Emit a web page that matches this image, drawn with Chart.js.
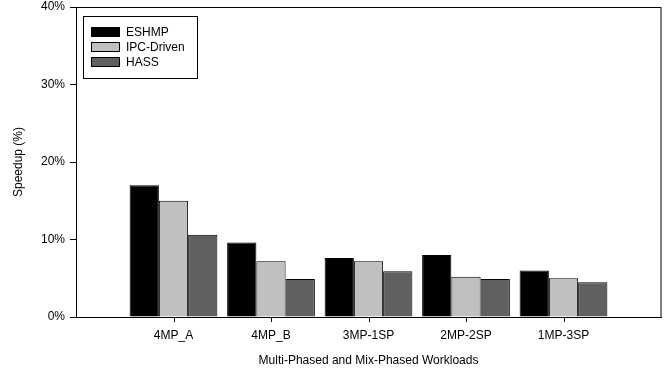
<!DOCTYPE html>
<html>
<head>
<meta charset="utf-8">
<script src="https://cdn.jsdelivr.net/npm/chart.js@4/dist/chart.umd.min.js"></script>
<style>
  html, body { margin: 0; padding: 0; background: #fff; }
  #wrap { width: 667px; height: 373px; }
</style>
</head>
<body>
<div id="wrap"><canvas id="c" width="667" height="373"></canvas></div>
<script>
// Workload categories and speedup (%) per scheduler
const categories = ['4MP_A', '4MP_B', '3MP-1SP', '2MP-2SP', '1MP-3SP'];
const eshmp     = [17.0, 9.6, 7.6, 8.0, 6.0];
const ipcDriven = [15.0, 7.2, 7.2, 5.2, 5.0];
const hass      = [10.6, 4.9, 5.9, 4.9, 4.5];
const yTicks    = [0, 10, 20, 30, 40];

const FONT = 'Liberation Sans, Arial, sans-serif';

// Empty slots on both ends leave the half-category gaps at the plot edges
const pad = arr => [null, ...arr, null];
const labels = ['', ...categories, ''];

// Frame box around the plot area, category tick marks and an in-plot legend
const framePlugin = {
  id: 'frameAndLegend',
  afterDraw(chart) {
    const { ctx, chartArea: a } = chart;
    const xs = chart.scales.x;
    ctx.save();
    ctx.strokeStyle = '#000';
    ctx.lineWidth = 1;
    ctx.strokeRect(Math.round(a.left) + 0.5, Math.round(a.top) + 0.5,
                   Math.round(a.right - a.left) - 0.5, Math.round(a.bottom - a.top));

    // tick marks under each workload
    ctx.beginPath();
    categories.forEach((c, i) => {
      const x = Math.round(xs.getPixelForValue(i + 1)) + 0.5;
      ctx.moveTo(x, Math.round(a.bottom));
      ctx.lineTo(x, Math.round(a.bottom) + 5);
    });
    ctx.stroke();

    // legend box
    const lx = 83.5, ly = 16.5, lw = 114, lh = 62;
    ctx.fillStyle = '#fff';
    ctx.fillRect(lx, ly, lw, lh);
    ctx.strokeRect(lx, ly, lw, lh);
    ctx.font = '12px ' + FONT;
    ctx.textBaseline = 'middle';
    chart.data.datasets.forEach((ds, i) => {
      const cy = 32 + i * 15;
      ctx.fillStyle = ds.backgroundColor;
      ctx.fillRect(91.5, cy - 4.5, 28, 9);
      ctx.strokeRect(91.5, cy - 4.5, 28, 9);
      ctx.fillStyle = '#000';
      ctx.fillText(ds.label, 126, cy + 0.5);
    });
    ctx.restore();
  }
};

new Chart(document.getElementById('c'), {
  type: 'bar',
  data: {
    labels: labels,
    datasets: [
      { label: 'ESHMP',      data: pad(eshmp),     backgroundColor: '#000000' },
      { label: 'IPC-Driven', data: pad(ipcDriven), backgroundColor: '#c0c0c0' },
      { label: 'HASS',       data: pad(hass),      backgroundColor: '#606060' }
    ].map(d => Object.assign(d, { borderColor: '#000', borderWidth: 1,
                                  categoryPercentage: 0.9, barPercentage: 1.0 }))
  },
  options: {
    responsive: false,
    animation: false,
    layout: { padding: { top: 7, right: 6, left: 0, bottom: 0 } },
    plugins: { legend: { display: false }, tooltip: { enabled: false } },
    scales: {
      x: {
        offset: false,
        grid: {
          offset: false,
          drawOnChartArea: false,
          drawTicks: true,
          tickLength: 5,
          tickColor: 'rgba(0,0,0,0)'
        },
        border: { display: true, color: '#000', width: 1 },
        ticks: { color: '#000', font: { family: FONT, size: 12 }, padding: 6, maxRotation: 0, autoSkip: false },
        title: { display: true, text: 'Multi-Phased and Mix-Phased Workloads', color: '#000',
                 font: { family: FONT, size: 12 }, padding: { top: 0, bottom: 5 } },
        afterFit: s => { s.height = 56; s.paddingLeft = 0; s.paddingRight = 0; }
      },
      y: {
        min: 0, max: 40,
        afterBuildTicks: s => { s.ticks = yTicks.map(v => ({ value: v })); },
        grid: { drawOnChartArea: false, drawTicks: true, tickLength: 6, tickColor: '#000' },
        border: { display: true, color: '#000', width: 1 },
        ticks: { color: '#000', font: { family: FONT, size: 12 }, padding: 5, callback: v => v + '%' },
        title: { display: true, text: 'Speedup (%)', color: '#000',
                 font: { family: FONT, size: 12 }, padding: { top: 11, bottom: 0 } },
        afterFit: s => { s.width = 76; s.paddingTop = 0; s.paddingBottom = 0; }
      }
    }
  },
  plugins: [framePlugin]
});
</script>
</body>
</html>
